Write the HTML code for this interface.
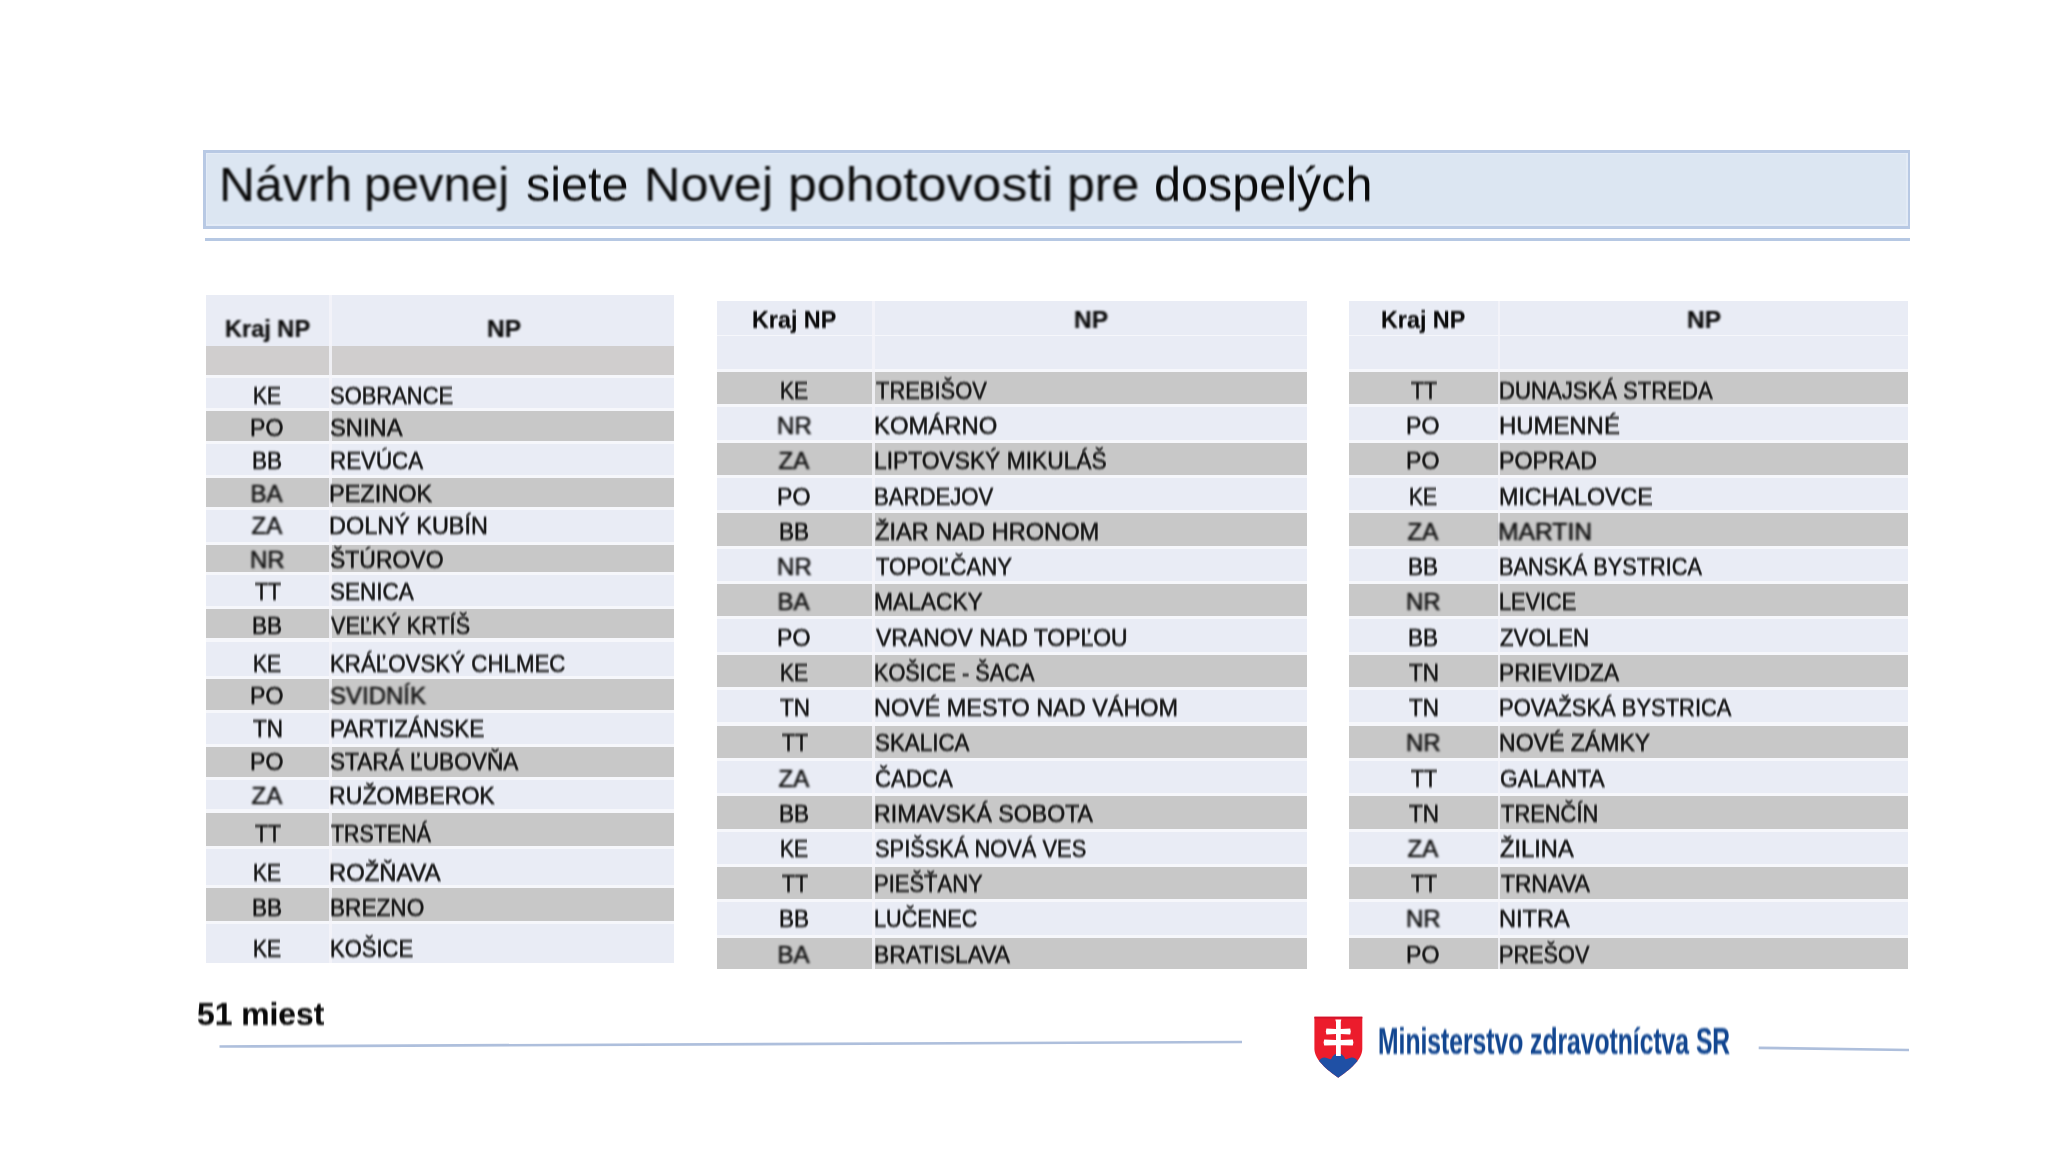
<!DOCTYPE html>
<html><head><meta charset="utf-8"><title>Návrh pevnej siete Novej pohotovosti pre dospelých</title>
<style>
html,body{margin:0;padding:0;background:#fff;}
body{width:2048px;height:1152px;position:relative;overflow:hidden;font-family:"Liberation Sans",sans-serif;}
#w{position:absolute;left:0;top:0;width:2048px;height:1152px;}
#w>div{position:absolute;}
.t{white-space:nowrap;filter:blur(0.8px);-webkit-text-stroke-width:0.6px;}
.b{-webkit-text-stroke-width:0.2px;}
.h{-webkit-text-stroke-width:0px;}
</style></head><body>
<div id="w">
<div style="left:203.30px;top:150.00px;width:1706.40px;height:78.50px;background:#b8c9e4;"></div>
<div style="left:205.50px;top:152.80px;width:1702.00px;height:73.00px;background:#e3ebf6;"></div>
<div style="left:207.00px;top:154.30px;width:1699.00px;height:70.00px;background:#dce6f2;"></div>
<div class="t h" style="left:218.93px;top:159.52px;font-size:49px;line-height:49px;color:#0a0a0a;transform:scaleX(1.01869918699187);transform-origin:0 0;">Návrh</div>
<div class="t h" style="left:363.98px;top:159.52px;font-size:49px;line-height:49px;color:#0a0a0a;transform:scaleX(1.0050359712230215);transform-origin:0 0;">pevnej</div>
<div class="t h" style="left:526.42px;top:159.52px;font-size:49px;line-height:49px;color:#0a0a0a;transform:scaleX(0.9888888888888887);transform-origin:0 0;">siete</div>
<div class="t h" style="left:644.28px;top:159.52px;font-size:49px;line-height:49px;color:#0a0a0a;transform:scaleX(1.0305084745762714);transform-origin:0 0;">Novej</div>
<div class="t h" style="left:787.52px;top:159.52px;font-size:49px;line-height:49px;color:#0a0a0a;transform:scaleX(1.0583673469387753);transform-origin:0 0;">pohotovosti</div>
<div class="t h" style="left:1066.83px;top:159.52px;font-size:49px;line-height:49px;color:#0a0a0a;transform:scaleX(1.0227272727272727);transform-origin:0 0;">pre</div>
<div class="t h" style="left:1154.22px;top:159.52px;font-size:49px;line-height:49px;color:#0a0a0a;transform:scaleX(0.989767441860465);transform-origin:0 0;">dospelých</div>
<div style="left:204.50px;top:237.50px;width:1705.00px;height:3.10px;background:#b6c8e3;"></div>
<div style="left:205.50px;top:295.00px;width:468.10px;height:667.50px;background:#f6f7fb;"></div>
<div style="left:205.50px;top:295.00px;width:468.10px;height:51.30px;background:#e9ecf5;"></div>
<div style="left:205.50px;top:346.30px;width:468.10px;height:28.70px;background:#d0cece;"></div>
<div style="left:205.50px;top:378.00px;width:468.10px;height:30.00px;background:#e9ecf5;"></div>
<div style="left:205.50px;top:411.00px;width:468.10px;height:30.00px;background:#c8c8c8;"></div>
<div style="left:205.50px;top:444.00px;width:468.10px;height:30.70px;background:#e9ecf5;"></div>
<div style="left:205.50px;top:477.70px;width:468.10px;height:29.30px;background:#c8c8c8;"></div>
<div style="left:205.50px;top:510.00px;width:468.10px;height:31.50px;background:#e9ecf5;"></div>
<div style="left:205.50px;top:544.50px;width:468.10px;height:27.50px;background:#c8c8c8;"></div>
<div style="left:205.50px;top:575.00px;width:468.10px;height:30.80px;background:#e9ecf5;"></div>
<div style="left:205.50px;top:608.80px;width:468.10px;height:29.70px;background:#c8c8c8;"></div>
<div style="left:205.50px;top:641.50px;width:468.10px;height:34.50px;background:#e9ecf5;"></div>
<div style="left:205.50px;top:679.00px;width:468.10px;height:30.50px;background:#c8c8c8;"></div>
<div style="left:205.50px;top:712.50px;width:468.10px;height:31.20px;background:#e9ecf5;"></div>
<div style="left:205.50px;top:746.70px;width:468.10px;height:30.10px;background:#c8c8c8;"></div>
<div style="left:205.50px;top:779.80px;width:468.10px;height:29.70px;background:#e9ecf5;"></div>
<div style="left:205.50px;top:812.50px;width:468.10px;height:33.20px;background:#c8c8c8;"></div>
<div style="left:205.50px;top:848.70px;width:468.10px;height:36.60px;background:#e9ecf5;"></div>
<div style="left:205.50px;top:888.30px;width:468.10px;height:32.70px;background:#c8c8c8;"></div>
<div style="left:205.50px;top:924.00px;width:468.10px;height:38.50px;background:#e9ecf5;"></div>
<div style="left:329.25px;top:295.00px;width:2.50px;height:667.50px;background:#f4f5f9;opacity:0.85;"></div>
<div class="t b" style="left:224.50px;top:317.81px;font-size:23.5px;line-height:23.5px;font-weight:bold;color:#0a0a0a;transform:scaleX(1.0024096385542167);transform-origin:0 0;">Kraj NP</div>
<div class="t b" style="left:486.56px;top:317.81px;font-size:23.5px;line-height:23.5px;font-weight:bold;color:#0a0a0a;transform:scaleX(1.0419354838709662);transform-origin:0 0;">NP</div>
<div class="t" style="left:252.99px;top:384.38px;font-size:24px;line-height:24px;color:#161616;transform:scaleX(0.8793103448275862);transform-origin:0 0;">KE</div>
<div class="t" style="left:330.49px;top:384.38px;font-size:24px;line-height:24px;color:#161616;transform:scaleX(0.9142857142857145);transform-origin:0 0;">SOBRANCE</div>
<div class="t" style="left:250.17px;top:416.38px;font-size:24px;line-height:24px;color:#161616;transform:scaleX(0.9624999999999995);transform-origin:0 0;">PO</div>
<div class="t" style="left:330.41px;top:416.38px;font-size:24px;line-height:24px;color:#161616;transform:scaleX(0.9902777777777779);transform-origin:0 0;">SNINA</div>
<div class="t" style="left:251.91px;top:448.98px;font-size:24px;line-height:24px;color:#161616;transform:scaleX(0.9448275862068958);transform-origin:0 0;">BB</div>
<div class="t" style="left:329.54px;top:448.98px;font-size:24px;line-height:24px;color:#161616;transform:scaleX(0.9316326530612246);transform-origin:0 0;">REVÚCA</div>
<div class="t" style="left:250.50px;top:481.68px;font-size:24px;line-height:24px;color:#161616;transform:scaleX(1.0);transform-origin:0 0;">BA</div>
<div class="t" style="left:329.44px;top:481.68px;font-size:24px;line-height:24px;color:#161616;transform:scaleX(0.9794117647058826);transform-origin:0 0;">PEZINOK</div>
<div class="t" style="left:251.50px;top:513.68px;font-size:24px;line-height:24px;color:#161616;transform:scaleX(1.0);transform-origin:0 0;">ZA</div>
<div class="t" style="left:329.45px;top:513.68px;font-size:24px;line-height:24px;color:#161616;transform:scaleX(0.9767295597484278);transform-origin:0 0;">DOLNÝ KUBÍN</div>
<div class="t" style="left:250.00px;top:547.68px;font-size:24px;line-height:24px;color:#161616;transform:scaleX(1.0);transform-origin:0 0;">NR</div>
<div class="t" style="left:330.44px;top:547.68px;font-size:24px;line-height:24px;color:#161616;transform:scaleX(0.9564102564102567);transform-origin:0 0;">ŠTÚROVO</div>
<div class="t" style="left:254.65px;top:580.38px;font-size:24px;line-height:24px;color:#161616;transform:scaleX(0.8862068965517247);transform-origin:0 0;">TT</div>
<div class="t" style="left:330.46px;top:580.38px;font-size:24px;line-height:24px;color:#161616;transform:scaleX(0.9386363636363639);transform-origin:0 0;">SENICA</div>
<div class="t" style="left:251.91px;top:613.68px;font-size:24px;line-height:24px;color:#161616;transform:scaleX(0.9448275862068958);transform-origin:0 0;">BB</div>
<div class="t" style="left:331.40px;top:613.68px;font-size:24px;line-height:24px;color:#161616;transform:scaleX(0.9013071895424839);transform-origin:0 0;">VEĽKÝ KRTÍŠ</div>
<div class="t" style="left:252.99px;top:652.08px;font-size:24px;line-height:24px;color:#161616;transform:scaleX(0.8793103448275862);transform-origin:0 0;">KE</div>
<div class="t" style="left:329.54px;top:652.08px;font-size:24px;line-height:24px;color:#161616;transform:scaleX(0.9292000000000002);transform-origin:0 0;">KRÁĽOVSKÝ CHLMEC</div>
<div class="t" style="left:250.17px;top:683.98px;font-size:24px;line-height:24px;color:#161616;transform:scaleX(0.9624999999999995);transform-origin:0 0;">PO</div>
<div class="t" style="left:330.40px;top:683.98px;font-size:24px;line-height:24px;color:#161616;transform:scaleX(0.9989361702127664);transform-origin:0 0;">SVIDNÍK</div>
<div class="t" style="left:253.00px;top:716.68px;font-size:24px;line-height:24px;color:#161616;transform:scaleX(0.9354838709677419);transform-origin:0 0;">TN</div>
<div class="t" style="left:329.52px;top:716.68px;font-size:24px;line-height:24px;color:#161616;transform:scaleX(0.9382716049382716);transform-origin:0 0;">PARTIZÁNSKE</div>
<div class="t" style="left:250.17px;top:749.98px;font-size:24px;line-height:24px;color:#161616;transform:scaleX(0.9624999999999995);transform-origin:0 0;">PO</div>
<div class="t" style="left:330.46px;top:749.98px;font-size:24px;line-height:24px;color:#161616;transform:scaleX(0.9437185929648244);transform-origin:0 0;">STARÁ ĽUBOVŇA</div>
<div class="t" style="left:251.50px;top:784.38px;font-size:24px;line-height:24px;color:#161616;transform:scaleX(1.0);transform-origin:0 0;">ZA</div>
<div class="t" style="left:329.47px;top:784.38px;font-size:24px;line-height:24px;color:#161616;transform:scaleX(0.9639053254437872);transform-origin:0 0;">RUŽOMBEROK</div>
<div class="t" style="left:254.65px;top:821.88px;font-size:24px;line-height:24px;color:#161616;transform:scaleX(0.8862068965517247);transform-origin:0 0;">TT</div>
<div class="t" style="left:331.40px;top:821.88px;font-size:24px;line-height:24px;color:#161616;transform:scaleX(0.891964285714286);transform-origin:0 0;">TRSTENÁ</div>
<div class="t" style="left:252.99px;top:860.68px;font-size:24px;line-height:24px;color:#161616;transform:scaleX(0.8793103448275862);transform-origin:0 0;">KE</div>
<div class="t" style="left:329.42px;top:860.68px;font-size:24px;line-height:24px;color:#161616;transform:scaleX(0.991818181818182);transform-origin:0 0;">ROŽŇAVA</div>
<div class="t" style="left:251.91px;top:896.18px;font-size:24px;line-height:24px;color:#161616;transform:scaleX(0.9448275862068958);transform-origin:0 0;">BB</div>
<div class="t" style="left:329.52px;top:896.18px;font-size:24px;line-height:24px;color:#161616;transform:scaleX(0.9422680412371137);transform-origin:0 0;">BREZNO</div>
<div class="t" style="left:252.99px;top:937.48px;font-size:24px;line-height:24px;color:#161616;transform:scaleX(0.8793103448275862);transform-origin:0 0;">KE</div>
<div class="t" style="left:329.57px;top:937.48px;font-size:24px;line-height:24px;color:#161616;transform:scaleX(0.9159090909090911);transform-origin:0 0;">KOŠICE</div>
<div style="left:716.50px;top:300.50px;width:590.50px;height:668.25px;background:#f6f7fb;"></div>
<div style="left:716.50px;top:300.50px;width:590.50px;height:34.00px;background:#e9ecf5;"></div>
<div style="left:716.50px;top:336.00px;width:590.50px;height:33.00px;background:#e9ecf5;"></div>
<div style="left:716.50px;top:371.90px;width:590.50px;height:32.36px;background:#c8c8c8;"></div>
<div style="left:716.50px;top:407.26px;width:590.50px;height:32.36px;background:#e9ecf5;"></div>
<div style="left:716.50px;top:442.62px;width:590.50px;height:32.36px;background:#c8c8c8;"></div>
<div style="left:716.50px;top:477.98px;width:590.50px;height:32.36px;background:#e9ecf5;"></div>
<div style="left:716.50px;top:513.34px;width:590.50px;height:32.36px;background:#c8c8c8;"></div>
<div style="left:716.50px;top:548.70px;width:590.50px;height:32.36px;background:#e9ecf5;"></div>
<div style="left:716.50px;top:584.06px;width:590.50px;height:32.36px;background:#c8c8c8;"></div>
<div style="left:716.50px;top:619.42px;width:590.50px;height:32.36px;background:#e9ecf5;"></div>
<div style="left:716.50px;top:654.78px;width:590.50px;height:32.36px;background:#c8c8c8;"></div>
<div style="left:716.50px;top:690.14px;width:590.50px;height:32.36px;background:#e9ecf5;"></div>
<div style="left:716.50px;top:725.50px;width:590.50px;height:32.36px;background:#c8c8c8;"></div>
<div style="left:716.50px;top:760.86px;width:590.50px;height:32.36px;background:#e9ecf5;"></div>
<div style="left:716.50px;top:796.22px;width:590.50px;height:32.36px;background:#c8c8c8;"></div>
<div style="left:716.50px;top:831.58px;width:590.50px;height:32.36px;background:#e9ecf5;"></div>
<div style="left:716.50px;top:866.94px;width:590.50px;height:32.36px;background:#c8c8c8;"></div>
<div style="left:716.50px;top:902.30px;width:590.50px;height:32.36px;background:#e9ecf5;"></div>
<div style="left:716.50px;top:937.66px;width:590.50px;height:31.09px;background:#c8c8c8;"></div>
<div style="left:872.25px;top:300.50px;width:2.50px;height:668.25px;background:#f4f5f9;opacity:0.85;"></div>
<div class="t b" style="left:752.41px;top:308.71px;font-size:23.5px;line-height:23.5px;font-weight:bold;color:#0a0a0a;transform:scaleX(0.9927710843373505);transform-origin:0 0;">Kraj NP</div>
<div class="t b" style="left:1074.06px;top:308.71px;font-size:23.5px;line-height:23.5px;font-weight:bold;color:#0a0a0a;transform:scaleX(1.0419354838709736);transform-origin:0 0;">NP</div>
<div class="t" style="left:780.09px;top:378.88px;font-size:24px;line-height:24px;color:#161616;transform:scaleX(0.8793103448275862);transform-origin:0 0;">KE</div>
<div class="t" style="left:875.70px;top:378.88px;font-size:24px;line-height:24px;color:#161616;transform:scaleX(0.9132231404958677);transform-origin:0 0;">TREBIŠOV</div>
<div class="t" style="left:777.10px;top:414.12px;font-size:24px;line-height:24px;color:#161616;transform:scaleX(1.0);transform-origin:0 0;">NR</div>
<div class="t" style="left:873.71px;top:414.12px;font-size:24px;line-height:24px;color:#161616;transform:scaleX(0.9942148760330575);transform-origin:0 0;">KOMÁRNO</div>
<div class="t" style="left:778.60px;top:449.36px;font-size:24px;line-height:24px;color:#161616;transform:scaleX(1.0);transform-origin:0 0;">ZA</div>
<div class="t" style="left:873.80px;top:449.36px;font-size:24px;line-height:24px;color:#161616;transform:scaleX(0.9499999999999994);transform-origin:0 0;">LIPTOVSKÝ MIKULÁŠ</div>
<div class="t" style="left:777.28px;top:484.60px;font-size:24px;line-height:24px;color:#161616;transform:scaleX(0.9624999999999986);transform-origin:0 0;">PO</div>
<div class="t" style="left:873.86px;top:484.60px;font-size:24px;line-height:24px;color:#161616;transform:scaleX(0.9220472440944875);transform-origin:0 0;">BARDEJOV</div>
<div class="t" style="left:779.01px;top:519.84px;font-size:24px;line-height:24px;color:#161616;transform:scaleX(0.9448275862068997);transform-origin:0 0;">BB</div>
<div class="t" style="left:874.72px;top:519.84px;font-size:24px;line-height:24px;color:#161616;transform:scaleX(0.9831111111111113);transform-origin:0 0;">ŽIAR NAD HRONOM</div>
<div class="t" style="left:777.10px;top:555.08px;font-size:24px;line-height:24px;color:#161616;transform:scaleX(1.0);transform-origin:0 0;">NR</div>
<div class="t" style="left:875.70px;top:555.08px;font-size:24px;line-height:24px;color:#161616;transform:scaleX(0.9217687074829932);transform-origin:0 0;">TOPOĽČANY</div>
<div class="t" style="left:777.60px;top:590.32px;font-size:24px;line-height:24px;color:#161616;transform:scaleX(1.0);transform-origin:0 0;">BA</div>
<div class="t" style="left:873.80px;top:590.32px;font-size:24px;line-height:24px;color:#161616;transform:scaleX(0.9482142857142851);transform-origin:0 0;">MALACKY</div>
<div class="t" style="left:777.28px;top:625.56px;font-size:24px;line-height:24px;color:#161616;transform:scaleX(0.9624999999999986);transform-origin:0 0;">PO</div>
<div class="t" style="left:875.70px;top:625.56px;font-size:24px;line-height:24px;color:#161616;transform:scaleX(0.9561068702290076);transform-origin:0 0;">VRANOV NAD TOPĽOU</div>
<div class="t" style="left:780.09px;top:660.80px;font-size:24px;line-height:24px;color:#161616;transform:scaleX(0.8793103448275862);transform-origin:0 0;">KE</div>
<div class="t" style="left:873.89px;top:660.80px;font-size:24px;line-height:24px;color:#161616;transform:scaleX(0.9045714285714284);transform-origin:0 0;">KOŠICE - ŠACA</div>
<div class="t" style="left:780.10px;top:696.04px;font-size:24px;line-height:24px;color:#161616;transform:scaleX(0.9354838709677419);transform-origin:0 0;">TN</div>
<div class="t" style="left:873.75px;top:696.04px;font-size:24px;line-height:24px;color:#161616;transform:scaleX(0.9756493506493507);transform-origin:0 0;">NOVÉ MESTO NAD VÁHOM</div>
<div class="t" style="left:781.75px;top:731.28px;font-size:24px;line-height:24px;color:#161616;transform:scaleX(0.8862068965517257);transform-origin:0 0;">TT</div>
<div class="t" style="left:874.77px;top:731.28px;font-size:24px;line-height:24px;color:#161616;transform:scaleX(0.9319999999999993);transform-origin:0 0;">SKALICA</div>
<div class="t" style="left:778.60px;top:766.52px;font-size:24px;line-height:24px;color:#161616;transform:scaleX(1.0);transform-origin:0 0;">ZA</div>
<div class="t" style="left:874.77px;top:766.52px;font-size:24px;line-height:24px;color:#161616;transform:scaleX(0.9265060240963853);transform-origin:0 0;">ČADCA</div>
<div class="t" style="left:779.01px;top:801.76px;font-size:24px;line-height:24px;color:#161616;transform:scaleX(0.9448275862068997);transform-origin:0 0;">BB</div>
<div class="t" style="left:873.77px;top:801.76px;font-size:24px;line-height:24px;color:#161616;transform:scaleX(0.9639999999999994);transform-origin:0 0;">RIMAVSKÁ SOBOTA</div>
<div class="t" style="left:780.09px;top:837.00px;font-size:24px;line-height:24px;color:#161616;transform:scaleX(0.8793103448275862);transform-origin:0 0;">KE</div>
<div class="t" style="left:874.79px;top:837.00px;font-size:24px;line-height:24px;color:#161616;transform:scaleX(0.9099999999999998);transform-origin:0 0;">SPIŠSKÁ NOVÁ VES</div>
<div class="t" style="left:781.75px;top:872.24px;font-size:24px;line-height:24px;color:#161616;transform:scaleX(0.8862068965517257);transform-origin:0 0;">TT</div>
<div class="t" style="left:873.87px;top:872.24px;font-size:24px;line-height:24px;color:#161616;transform:scaleX(0.9163793103448272);transform-origin:0 0;">PIEŠŤANY</div>
<div class="t" style="left:779.01px;top:907.48px;font-size:24px;line-height:24px;color:#161616;transform:scaleX(0.9448275862068997);transform-origin:0 0;">BB</div>
<div class="t" style="left:873.90px;top:907.48px;font-size:24px;line-height:24px;color:#161616;transform:scaleX(0.901801801801801);transform-origin:0 0;">LUČENEC</div>
<div class="t" style="left:777.60px;top:942.72px;font-size:24px;line-height:24px;color:#161616;transform:scaleX(1.0);transform-origin:0 0;">BA</div>
<div class="t" style="left:873.79px;top:942.72px;font-size:24px;line-height:24px;color:#161616;transform:scaleX(0.9539007092198581);transform-origin:0 0;">BRATISLAVA</div>
<div style="left:1349.40px;top:300.50px;width:558.30px;height:668.25px;background:#f6f7fb;"></div>
<div style="left:1349.40px;top:300.50px;width:558.30px;height:34.00px;background:#e9ecf5;"></div>
<div style="left:1349.40px;top:336.00px;width:558.30px;height:33.00px;background:#e9ecf5;"></div>
<div style="left:1349.40px;top:371.90px;width:558.30px;height:32.36px;background:#c8c8c8;"></div>
<div style="left:1349.40px;top:407.26px;width:558.30px;height:32.36px;background:#e9ecf5;"></div>
<div style="left:1349.40px;top:442.62px;width:558.30px;height:32.36px;background:#c8c8c8;"></div>
<div style="left:1349.40px;top:477.98px;width:558.30px;height:32.36px;background:#e9ecf5;"></div>
<div style="left:1349.40px;top:513.34px;width:558.30px;height:32.36px;background:#c8c8c8;"></div>
<div style="left:1349.40px;top:548.70px;width:558.30px;height:32.36px;background:#e9ecf5;"></div>
<div style="left:1349.40px;top:584.06px;width:558.30px;height:32.36px;background:#c8c8c8;"></div>
<div style="left:1349.40px;top:619.42px;width:558.30px;height:32.36px;background:#e9ecf5;"></div>
<div style="left:1349.40px;top:654.78px;width:558.30px;height:32.36px;background:#c8c8c8;"></div>
<div style="left:1349.40px;top:690.14px;width:558.30px;height:32.36px;background:#e9ecf5;"></div>
<div style="left:1349.40px;top:725.50px;width:558.30px;height:32.36px;background:#c8c8c8;"></div>
<div style="left:1349.40px;top:760.86px;width:558.30px;height:32.36px;background:#e9ecf5;"></div>
<div style="left:1349.40px;top:796.22px;width:558.30px;height:32.36px;background:#c8c8c8;"></div>
<div style="left:1349.40px;top:831.58px;width:558.30px;height:32.36px;background:#e9ecf5;"></div>
<div style="left:1349.40px;top:866.94px;width:558.30px;height:32.36px;background:#c8c8c8;"></div>
<div style="left:1349.40px;top:902.30px;width:558.30px;height:32.36px;background:#e9ecf5;"></div>
<div style="left:1349.40px;top:937.66px;width:558.30px;height:31.09px;background:#c8c8c8;"></div>
<div style="left:1497.75px;top:300.50px;width:2.50px;height:668.25px;background:#f4f5f9;opacity:0.85;"></div>
<div class="t b" style="left:1381.31px;top:308.71px;font-size:23.5px;line-height:23.5px;font-weight:bold;color:#0a0a0a;transform:scaleX(0.9927710843373505);transform-origin:0 0;">Kraj NP</div>
<div class="t b" style="left:1686.71px;top:308.71px;font-size:23.5px;line-height:23.5px;font-weight:bold;color:#0a0a0a;transform:scaleX(1.0419354838709736);transform-origin:0 0;">NP</div>
<div class="t" style="left:1410.65px;top:378.88px;font-size:24px;line-height:24px;color:#161616;transform:scaleX(0.8862068965517179);transform-origin:0 0;">TT</div>
<div class="t" style="left:1498.66px;top:378.88px;font-size:24px;line-height:24px;color:#161616;transform:scaleX(0.9213043478260874);transform-origin:0 0;">DUNAJSKÁ STREDA</div>
<div class="t" style="left:1406.17px;top:414.12px;font-size:24px;line-height:24px;color:#161616;transform:scaleX(0.9625000000000057);transform-origin:0 0;">PO</div>
<div class="t" style="left:1498.51px;top:414.12px;font-size:24px;line-height:24px;color:#161616;transform:scaleX(0.9957627118644068);transform-origin:0 0;">HUMENNÉ</div>
<div class="t" style="left:1406.17px;top:449.36px;font-size:24px;line-height:24px;color:#161616;transform:scaleX(0.9625000000000057);transform-origin:0 0;">PO</div>
<div class="t" style="left:1498.57px;top:449.36px;font-size:24px;line-height:24px;color:#161616;transform:scaleX(0.9663265306122454);transform-origin:0 0;">POPRAD</div>
<div class="t" style="left:1408.99px;top:484.60px;font-size:24px;line-height:24px;color:#161616;transform:scaleX(0.8793103448275862);transform-origin:0 0;">KE</div>
<div class="t" style="left:1498.56px;top:484.60px;font-size:24px;line-height:24px;color:#161616;transform:scaleX(0.9692307692307696);transform-origin:0 0;">MICHALOVCE</div>
<div class="t" style="left:1407.50px;top:519.84px;font-size:24px;line-height:24px;color:#161616;transform:scaleX(1.0);transform-origin:0 0;">ZA</div>
<div class="t" style="left:1498.45px;top:519.84px;font-size:24px;line-height:24px;color:#161616;transform:scaleX(1.0272727272727282);transform-origin:0 0;">MARTIN</div>
<div class="t" style="left:1407.91px;top:555.08px;font-size:24px;line-height:24px;color:#161616;transform:scaleX(0.9448275862068997);transform-origin:0 0;">BB</div>
<div class="t" style="left:1498.69px;top:555.08px;font-size:24px;line-height:24px;color:#161616;transform:scaleX(0.9058558558558555);transform-origin:0 0;">BANSKÁ BYSTRICA</div>
<div class="t" style="left:1406.00px;top:590.32px;font-size:24px;line-height:24px;color:#161616;transform:scaleX(1.0);transform-origin:0 0;">NR</div>
<div class="t" style="left:1498.69px;top:590.32px;font-size:24px;line-height:24px;color:#161616;transform:scaleX(0.9036585365853648);transform-origin:0 0;">LEVICE</div>
<div class="t" style="left:1407.91px;top:625.56px;font-size:24px;line-height:24px;color:#161616;transform:scaleX(0.9448275862068997);transform-origin:0 0;">BB</div>
<div class="t" style="left:1499.57px;top:625.56px;font-size:24px;line-height:24px;color:#161616;transform:scaleX(0.9276595744680856);transform-origin:0 0;">ZVOLEN</div>
<div class="t" style="left:1409.00px;top:660.80px;font-size:24px;line-height:24px;color:#161616;transform:scaleX(0.9354838709677419);transform-origin:0 0;">TN</div>
<div class="t" style="left:1498.60px;top:660.80px;font-size:24px;line-height:24px;color:#161616;transform:scaleX(0.9487999999999993);transform-origin:0 0;">PRIEVIDZA</div>
<div class="t" style="left:1409.00px;top:696.04px;font-size:24px;line-height:24px;color:#161616;transform:scaleX(0.9354838709677419);transform-origin:0 0;">TN</div>
<div class="t" style="left:1498.67px;top:696.04px;font-size:24px;line-height:24px;color:#161616;transform:scaleX(0.9142857142857147);transform-origin:0 0;">POVAŽSKÁ BYSTRICA</div>
<div class="t" style="left:1406.00px;top:731.28px;font-size:24px;line-height:24px;color:#161616;transform:scaleX(1.0);transform-origin:0 0;">NR</div>
<div class="t" style="left:1498.58px;top:731.28px;font-size:24px;line-height:24px;color:#161616;transform:scaleX(0.960389610389611);transform-origin:0 0;">NOVÉ ZÁMKY</div>
<div class="t" style="left:1410.65px;top:766.52px;font-size:24px;line-height:24px;color:#161616;transform:scaleX(0.8862068965517179);transform-origin:0 0;">TT</div>
<div class="t" style="left:1499.55px;top:766.52px;font-size:24px;line-height:24px;color:#161616;transform:scaleX(0.9486238532110101);transform-origin:0 0;">GALANTA</div>
<div class="t" style="left:1409.00px;top:801.76px;font-size:24px;line-height:24px;color:#161616;transform:scaleX(0.9354838709677419);transform-origin:0 0;">TN</div>
<div class="t" style="left:1500.50px;top:801.76px;font-size:24px;line-height:24px;color:#161616;transform:scaleX(0.912380952380952);transform-origin:0 0;">TRENČÍN</div>
<div class="t" style="left:1407.50px;top:837.00px;font-size:24px;line-height:24px;color:#161616;transform:scaleX(1.0);transform-origin:0 0;">ZA</div>
<div class="t" style="left:1499.51px;top:837.00px;font-size:24px;line-height:24px;color:#161616;transform:scaleX(0.9864864864864865);transform-origin:0 0;">ŽILINA</div>
<div class="t" style="left:1410.65px;top:872.24px;font-size:24px;line-height:24px;color:#161616;transform:scaleX(0.8862068965517179);transform-origin:0 0;">TT</div>
<div class="t" style="left:1500.50px;top:872.24px;font-size:24px;line-height:24px;color:#161616;transform:scaleX(0.9489361702127664);transform-origin:0 0;">TRNAVA</div>
<div class="t" style="left:1406.00px;top:907.48px;font-size:24px;line-height:24px;color:#161616;transform:scaleX(1.0);transform-origin:0 0;">NR</div>
<div class="t" style="left:1498.53px;top:907.48px;font-size:24px;line-height:24px;color:#161616;transform:scaleX(0.9828571428571422);transform-origin:0 0;">NITRA</div>
<div class="t" style="left:1406.17px;top:942.72px;font-size:24px;line-height:24px;color:#161616;transform:scaleX(0.9625000000000057);transform-origin:0 0;">PO</div>
<div class="t" style="left:1498.69px;top:942.72px;font-size:24px;line-height:24px;color:#161616;transform:scaleX(0.9030612244897959);transform-origin:0 0;">PREŠOV</div>
<div class="t b" style="left:196.61px;top:998.31px;font-size:32px;line-height:32px;font-weight:bold;color:#0a0a0a;transform:scaleX(0.9936507936507938);transform-origin:0 0;">51 miest</div>
<svg style="position:absolute;left:0;top:0" width="2048" height="1152" viewBox="0 0 2048 1152"><line x1="219.5" y1="1046.5" x2="1242" y2="1042" stroke="#aebfdc" stroke-width="2.7"/><line x1="1758.7" y1="1047.8" x2="1909" y2="1050" stroke="#aebfdc" stroke-width="2.7"/><defs><clipPath id="sh"><path d="M1314.4 1016.8 L1362.3 1016.8 L1362.3 1049 C1362.2 1060 1349 1070 1338.2 1077.8 C1327.4 1070 1314.5 1060 1314.4 1049 Z"/></clipPath></defs><g clip-path="url(#sh)"><rect x="1310" y="1014" width="56" height="70" fill="#ec1c2c"/><rect x="1310" y="1014" width="56" height="4.5" fill="#d3122a"/><path d="M1310 1063 L1318.5 1061.5 C1320 1058.5 1323 1057.2 1325 1057.6 C1327.5 1058 1329.5 1059.5 1331 1059.3 C1333 1055 1335.5 1053.4 1338.2 1053.3 C1341 1053.4 1343.5 1055 1345.4 1059.3 C1347 1059.5 1349 1058 1351.5 1057.6 C1353.5 1057.2 1356.5 1058.5 1358 1061.5 L1366 1063 L1366 1084 L1310 1084 Z" fill="#1f50a5"/></g><path d="M1335.3 1019.6 L1341.3 1019.6 L1340.8 1022 L1340.8 1029 L1350.2 1028.6 L1350.8 1031.5 L1350.2 1034.4 L1340.8 1034 L1340.8 1040 L1352.8 1039.6 L1353.4 1042.6 L1352.8 1045.6 L1340.8 1045.2 L1340.8 1056 L1336 1056 L1336 1045.2 L1324.2 1045.6 L1323.6 1042.6 L1324.2 1039.6 L1336 1040 L1336 1034 L1326.4 1034.4 L1325.8 1031.5 L1326.4 1028.6 L1336 1029 L1336 1022 Z" fill="#fff"/></svg>
<div class="t b" style="left:1377.93px;top:1023.93px;font-size:36px;line-height:36px;font-weight:bold;color:#124690;transform:scaleX(0.684931506849315);transform-origin:0 0;">Ministerstvo zdravotníctva SR</div>
</div>
</body></html>
